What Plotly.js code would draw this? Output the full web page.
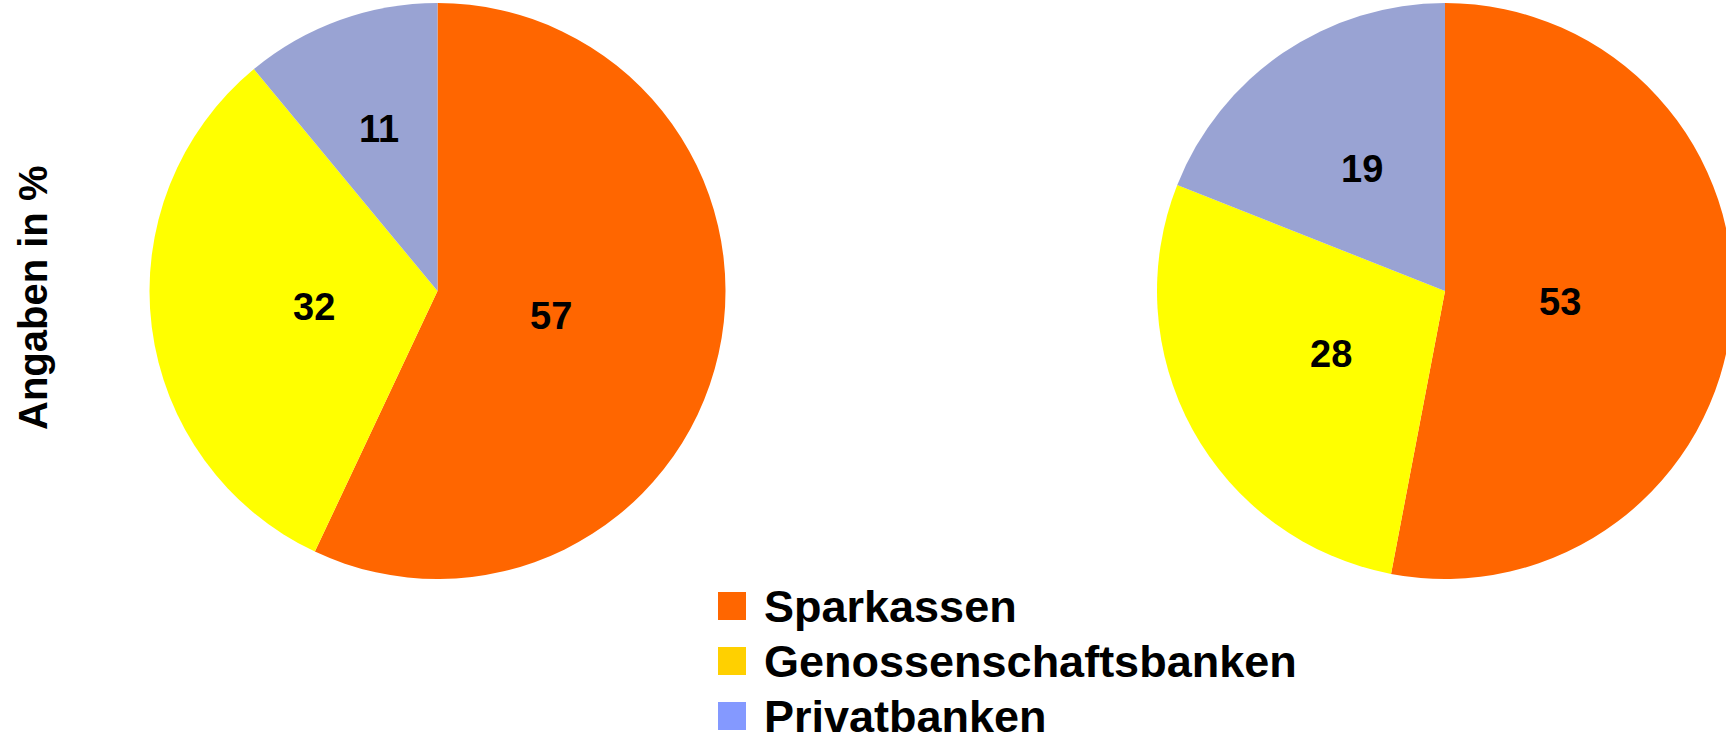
<!DOCTYPE html>
<html>
<head>
<meta charset="utf-8">
<script src="https://cdn.plot.ly/plotly-3.0.1.min.js"></script>
<style>html,body{margin:0;padding:0;overflow:hidden;background:#ffffff}</style>
</head>
<body>
<div id="chart"></div>
<script>
// ---- data ----
const categories = ["Sparkassen", "Genossenschaftsbanken", "Privatbanken"];
const valuesLeft = [57, 32, 11];
const valuesRight = [53, 28, 19];
const sliceColors = ["#FF6600", "#FFFF00", "#99A3D3"];
const legendColors = ["#FF6600", "#FFD000", "#8499FF"];
const yTitle = "Angaben in %";

// ---- layout helpers ----
const W = 1760, H = 737;
const px = x => x / W;
const py = y => 1 - y / H;
const R = 288, CY = 291;
const CX_LEFT = 437.5, CX_RIGHT = 1445;
const dom = cx => ({x: [px(cx - R), px(cx + R)], y: [py(CY + R), py(CY - R)]});
const FONT = "Liberation Sans, Arial, Helvetica, sans-serif";
const LABEL_K = 0.8;

function pieTrace(values, cx) {
  return {
    type: 'pie',
    labels: categories,
    values: values,
    sort: false,
    direction: 'clockwise',
    rotation: 0,
    domain: dom(cx),
    marker: {colors: sliceColors, line: {width: 0}},
    textinfo: 'none',
    hoverinfo: 'label+value',
    showlegend: false
  };
}

const data = [pieTrace(valuesLeft, CX_LEFT), pieTrace(valuesRight, CX_RIGHT)];

const shapes = [];
const annotations = [];

// value labels inside the slices, placed along each slice's mid-angle
function pieLabels(values, cx) {
  const total = values.reduce((a, b) => a + b, 0);
  let cum = 0;
  values.forEach(v => {
    const half = Math.PI * v / total;
    const mid = 2 * Math.PI * (cum + v / 2) / total;
    cum += v;
    const s = Math.sin(half);
    const rIns = Math.min(s / (1 + s), 0.5);
    const d = LABEL_K * R * (1 - rIns);
    annotations.push({xref: 'paper', yref: 'paper',
      x: px(cx + d * Math.sin(mid)), y: py(CY - d * Math.cos(mid)),
      xanchor: 'center', yanchor: 'middle', showarrow: false, text: String(v),
      font: {family: FONT, size: 38, color: '#000000', weight: 700}});
  });
}
pieLabels(valuesLeft, CX_LEFT);
pieLabels(valuesRight, CX_RIGHT);

// legend built from categories / legendColors
const SQ = 28, LX = 718, LY0 = 606, LDY = 55;
categories.forEach((c, i) => {
  const cy = LY0 + i * LDY;
  shapes.push({type: 'rect', xref: 'paper', yref: 'paper',
    x0: px(LX), x1: px(LX + SQ), y0: py(cy + SQ / 2), y1: py(cy - SQ / 2),
    fillcolor: legendColors[i], line: {width: 0}});
  annotations.push({xref: 'paper', yref: 'paper', x: px(762), y: py(cy),
    xanchor: 'left', yanchor: 'middle', showarrow: false, text: c,
    font: {family: FONT, size: 45, color: '#000000', weight: 700}});
});

// vertical axis-style title
annotations.push({xref: 'paper', yref: 'paper', x: px(33), y: py(298),
  xanchor: 'center', yanchor: 'middle', showarrow: false, textangle: -90,
  text: yTitle, font: {family: FONT, size: 40, color: '#000000', weight: 700}});

const layout = {
  width: W, height: H, autosize: false,
  margin: {l: 0, r: 0, t: 0, b: 0, pad: 0},
  paper_bgcolor: '#ffffff', plot_bgcolor: '#ffffff',
  showlegend: false,
  shapes: shapes,
  annotations: annotations
};

Plotly.newPlot('chart', data, layout, {displayModeBar: false, staticPlot: true});
</script>
</body>
</html>
